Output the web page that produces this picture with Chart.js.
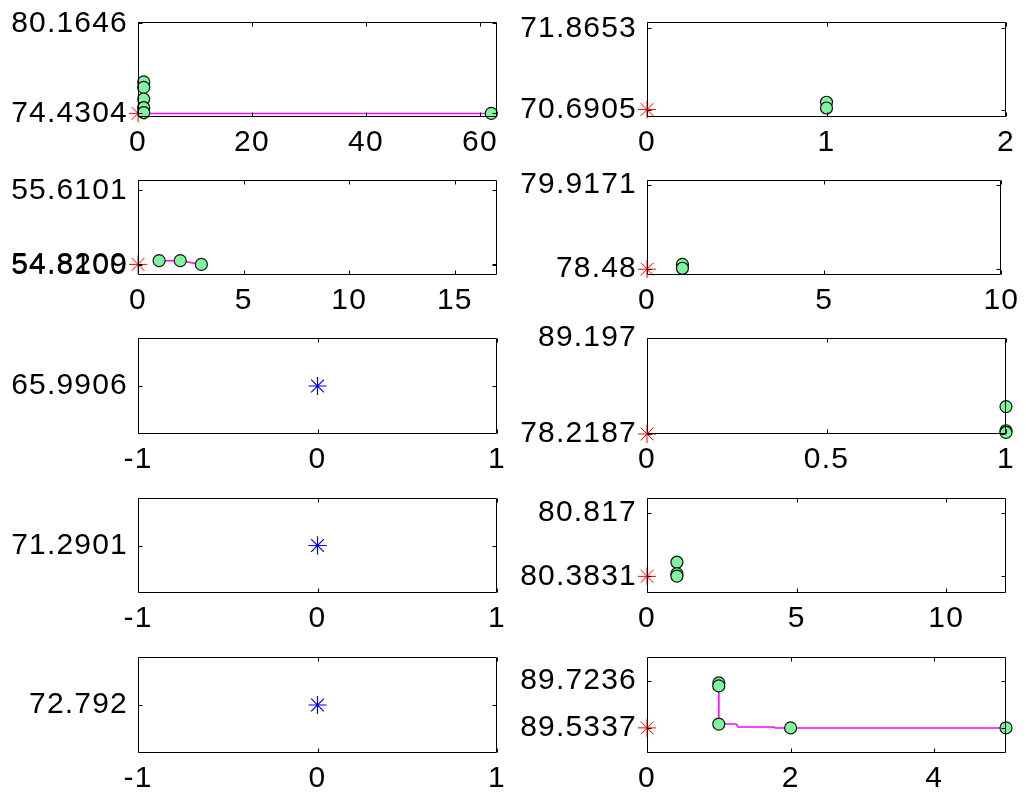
<!DOCTYPE html>
<html>
<head>
<meta charset="utf-8">
<script src="https://cdn.jsdelivr.net/npm/chart.js@4/dist/chart.umd.min.js"></script>
<style>
  html, body { margin: 0; padding: 0; background: #ffffff; }
  #fig { position: relative; width: 1026px; height: 797px; overflow: hidden; background: #ffffff; }
  #fig canvas { position: absolute; }
</style>
</head>
<body>
<div id="fig"></div>
<script>
// Ten subplots, row by row (left, right). Each list holds one entry per subplot.

// starting value, drawn as a red asterisk at x = 0 (null = none)
const startY = [74.4304, 70.6905, 54.8209, 78.48, null, 78.2187, 71.2901, 80.3831, null, 89.5337];
// reference value, drawn as a blue asterisk at x = 0 (null = none)
const refY = [null, null, null, null, 65.9906, null, 71.2901, null, 72.792, null];

// evaluated points (green circles)
const trialX = [
  [1, 1, 1, 1, 1, 62],
  [1, 1],
  [1, 2, 3],
  [1, 1],
  [],
  [1, 1, 1],
  [],
  [1, 1, 1],
  [],
  [1, 1, 1, 2, 5]
];
const trialY = [
  [76.434, 76.083, 75.346, 74.793, 74.486, 74.4304],
  [70.797, 70.713],
  [54.861, 54.861, 54.8209],
  [78.563, 78.496],
  [],
  [81.357, 78.588, 78.396],
  [],
  [80.480, 80.401, 80.385],
  [],
  [89.714, 89.702, 89.549, 89.5337, 89.5337]
];

// running trace (magenta line)
const traceX = [
  [1, 62],
  [],
  [1, 2, 3],
  [],
  [],
  [],
  [],
  [],
  [],
  [1, 1, 1.24, 1.27, 1.76, 1.79, 5]
];
const traceY = [
  [74.4304, 74.4304],
  [],
  [54.861, 54.861, 54.8209],
  [],
  [],
  [],
  [],
  [],
  [],
  [89.702, 89.549, 89.549, 89.5375, 89.5375, 89.5337, 89.5337]
];

// axis limits
const xRange = [[0, 63], [0, 2], [0, 17], [0, 10], [-1, 1], [0, 1], [-1, 1], [0, 12], [-1, 1], [0, 5]];
const yRange = [
  [74.202, 80.245], [70.583, 71.959], [54.708, 55.722], [78.381, 80.004], [64.9906, 66.9906],
  [78.2187, 89.197], [70.2901, 72.2901], [80.269, 80.920], [71.792, 73.792], [89.433, 89.818]
];

// tick positions and labels
const xTicks = [[0, 20, 40, 60], [0, 1, 2], [0, 5, 10, 15], [0, 5, 10], [-1, 0, 1],
                [0, 0.5, 1], [-1, 0, 1], [0, 5, 10], [-1, 0, 1], [0, 2, 4]];
const yTicks = [[74.4304, 80.1646], [70.6905, 71.8653], [54.81, 54.8209, 55.6101], [78.48, 79.9171], [65.9906],
                [78.2187, 89.197], [71.2901], [80.3831, 80.817], [72.792], [89.5337, 89.7236]];
const yTickLabels = [['74.4304', '80.1646'], ['70.6905', '71.8653'], ['54.8100', '54.8209', '55.6101'],
                     ['78.48', '79.9171'], ['65.9906'], ['78.2187', '89.197'], ['71.2901'],
                     ['80.3831', '80.817'], ['72.792'], ['89.5337', '89.7236']];

// ---- figure layout (pixels) ----
const colBoxLeft = [138, 647];
const colBoxRight = [497, 1006];
const colCanvasLeft = [0, 505];
const colCanvasRight = [530, 1026];
const rowBoxTop = [18, 176, 334, 494, 653];
const rowBoxBottom = [117, 275, 434, 593, 753];
const padAbove = 24, padBelow = 46;

const FONT = { family: "'Liberation Sans', Arial, Helvetica, sans-serif", size: 30 };
const LETTER_SPACING = '1.2px';
const TICK_LEN = 4;

// slightly wider glyph spacing for all tick labels
const textSpacing = {
  id: 'textSpacing',
  beforeDraw(chart) { chart.ctx.letterSpacing = LETTER_SPACING; }
};

// axes box and inward tick marks, drawn over the data
const axesBox = {
  id: 'axesBox',
  afterDatasetsDraw(chart) {
    const { ctx, chartArea: a, scales } = chart;
    const L = Math.round(a.left) + 0.5, R = Math.round(a.right) - 0.5;
    const T = Math.round(a.top) + 0.5, B = Math.round(a.bottom) - 0.5;
    ctx.save();
    ctx.strokeStyle = '#000000';
    ctx.lineWidth = 1;
    ctx.beginPath();
    ctx.rect(L, T, R - L, B - T);
    scales.x.ticks.forEach(t => {
      const px = Math.round(scales.x.getPixelForValue(t.value)) + 0.5;
      ctx.moveTo(px, B); ctx.lineTo(px, B - TICK_LEN);
      ctx.moveTo(px, T); ctx.lineTo(px, T + TICK_LEN);
    });
    scales.y.ticks.forEach(t => {
      const py = Math.round(scales.y.getPixelForValue(t.value)) + 0.5;
      ctx.moveTo(L, py); ctx.lineTo(L + TICK_LEN, py);
      ctx.moveTo(R, py); ctx.lineTo(R - TICK_LEN, py);
    });
    ctx.stroke();
    ctx.restore();
  }
};

const fig = document.getElementById('fig');

for (let i = 0; i < 10; i++) {
  const row = Math.floor(i / 2), col = i % 2;
  const cLeft = colCanvasLeft[col], cRight = colCanvasRight[col];
  const cTop = rowBoxTop[row] - padAbove, cBottom = rowBoxBottom[row] + padBelow;
  const canvas = document.createElement('canvas');
  canvas.width = cRight - cLeft;
  canvas.height = cBottom - cTop;
  canvas.style.left = cLeft + 'px';
  canvas.style.top = cTop + 'px';
  fig.appendChild(canvas);

  const yAxisW = colBoxLeft[col] - cLeft;
  const xAxisH = cBottom - rowBoxBottom[row];
  const rightPad = cRight - colBoxRight[col];

  const datasets = [];
  if (refY[i] !== null) {
    datasets.push({
      data: [{ x: 0, y: refY[i] }],
      pointStyle: 'star', pointRadius: 9, pointBorderColor: '#0000ff', pointBorderWidth: 1.2,
      showLine: false, clip: false
    });
  }
  if (trialX[i].length) {
    datasets.push({
      data: trialX[i].map((x, k) => ({ x, y: trialY[i][k] })),
      pointStyle: 'circle', pointRadius: 6, pointBackgroundColor: '#80f4a0',
      pointBorderColor: '#111111', pointBorderWidth: 1.2, showLine: false, clip: false
    });
  }
  if (startY[i] !== null) {
    datasets.push({
      data: [{ x: 0, y: startY[i] }],
      pointStyle: 'star', pointRadius: 9, pointBorderColor: '#ff0000', pointBorderWidth: 1,
      showLine: false, clip: false
    });
  }
  if (traceX[i].length) {
    datasets.push({
      data: traceX[i].map((x, k) => ({ x, y: traceY[i][k] })),
      showLine: true, borderColor: '#ff00ff', borderWidth: 1.5, pointRadius: 0,
      fill: false, tension: 0, clip: false
    });
  }

  const xt = xTicks[i], yt = yTicks[i], yl = yTickLabels[i];
  new Chart(canvas, {
    type: 'scatter',
    data: { datasets },
    options: {
      responsive: false,
      devicePixelRatio: 1,
      animation: false,
      events: [],
      layout: { padding: { top: padAbove, right: rightPad, left: 0, bottom: 0 } },
      plugins: { legend: { display: false }, tooltip: { enabled: false } },
      scales: {
        x: {
          type: 'linear', min: xRange[i][0], max: xRange[i][1],
          afterBuildTicks: s => { s.ticks = xt.map(v => ({ value: v })); },
          afterFit: s => { s.height = xAxisH; },
          ticks: { autoSkip: false, maxRotation: 0, padding: 8, font: FONT, color: '#000000',
                   callback: v => String(v) },
          grid: { display: false, drawTicks: false },
          border: { display: false }
        },
        y: {
          type: 'linear', min: yRange[i][0], max: yRange[i][1],
          afterBuildTicks: s => { s.ticks = yt.map(v => ({ value: v })); },
          afterFit: s => { s.width = yAxisW; },
          ticks: { autoSkip: false, padding: 10, font: FONT, color: '#000000',
                   callback: (v, k) => yl[k] },
          grid: { display: false, drawTicks: false },
          border: { display: false }
        }
      }
    },
    plugins: [textSpacing, axesBox]
  });
}
</script>
</body>
</html>
